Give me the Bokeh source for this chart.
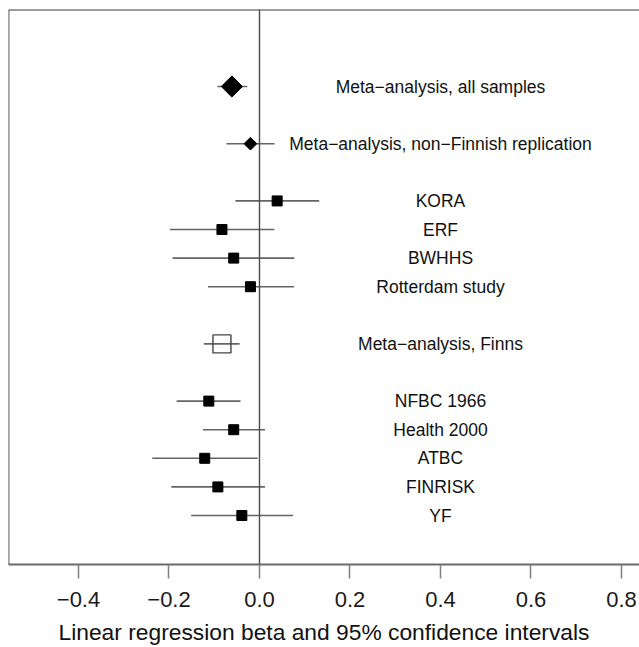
from bokeh.plotting import figure
from bokeh.models import Span, FixedTicker, ColumnDataSource, Range1d
from bokeh.core.properties import value
from bokeh.embed import file_html
from bokeh.resources import INLINE
import numpy as np

# ---- data ----
labels = ["Meta\u2212analysis, all samples",
          "Meta\u2212analysis, non\u2212Finnish replication",
          "KORA", "ERF", "BWHHS", "Rotterdam study",
          "Meta\u2212analysis, Finns",
          "NFBC 1966", "Health 2000", "ATBC", "FINRISK", "YF"]
rows = [16, 14, 12, 11, 10, 9, 7, 5, 4, 3, 2, 1]
beta = [-0.061, -0.020, 0.039, -0.083, -0.057, -0.020, -0.083,
        -0.112, -0.057, -0.121, -0.092, -0.039]
ci_low = [-0.093, -0.073, -0.053, -0.198, -0.192, -0.114, -0.123,
          -0.183, -0.125, -0.237, -0.195, -0.151]
ci_high = [-0.027, 0.033, 0.132, 0.033, 0.077, 0.076, -0.044,
           -0.042, 0.012, -0.004, 0.012, 0.074]
tick_values = [-0.4, -0.2, 0.0, 0.2, 0.4, 0.6, 0.8]
tick_labels = ["\u22120.4", "\u22120.2", "0.0", "0.2", "0.4", "0.6", "0.8"]
x_title = "Linear regression beta and 95% confidence intervals"

idx_all = [0]
idx_nonfin = [1]
idx_finns = [6]
idx_studies = [2, 3, 4, 5, 7, 8, 9, 10, 11]

FONT = "Liberation Sans"
X0, X1 = -0.5547, 0.8398
Y0, Y1 = -0.713, 18.693

p = figure(width=639, height=647, output_backend="svg", toolbar_location=None,
           x_range=Range1d(X0, X1), y_range=Range1d(Y0, Y1),
           y_axis_location=None, min_border_left=8, min_border_top=9,
           min_border_right=0, min_border_bottom=83)
p.outline_line_color = None
p.grid.visible = False
p.background_fill_color = "white"
p.border_fill_color = "white"

# frame borders (left, top); bottom is the axis line
p.add_layout(Span(location=X0, dimension="height", line_color="#4a4a4a", line_width=1.8))
p.add_layout(Span(location=Y1, dimension="width", line_color="#3a3a3a", line_width=2))
# zero line
p.add_layout(Span(location=0, dimension="height", line_color="#4a4a4a", line_width=1.4))

src = ColumnDataSource(dict(y=rows, b=beta, lo=ci_low, hi=ci_high, lab=labels))

p.segment(x0="lo", y0="y", x1="hi", y1="y", source=src, line_color="#646464", line_width=1.6)

def sub(ids):
    return dict(x=[beta[i] for i in ids], y=[rows[i] for i in ids])

p.scatter(x="x", y="y", source=ColumnDataSource(sub(idx_all)), marker="square",
          angle=np.pi / 4, size=15, fill_color="black", line_color="black")
p.scatter(x="x", y="y", source=ColumnDataSource(sub(idx_nonfin)), marker="square",
          angle=np.pi / 4, size=9, fill_color="black", line_color="black")
p.scatter(x="x", y="y", source=ColumnDataSource(sub(idx_studies)), marker="square",
          size=10, fill_color="black", line_color="black")
p.scatter(x="x", y="y", source=ColumnDataSource(sub(idx_finns)), marker="square",
          size=18, fill_color=None, line_color="#444444", line_width=1.4)

p.text(x=0.4, y="y", text="lab", source=src, text_align="center", text_baseline="middle",
       text_font=value(FONT), text_font_size="17.5px", text_color="#111111")

# x axis
ax = p.xaxis[0]
ax.ticker = FixedTicker(ticks=tick_values)
ax.major_label_overrides = {v: s for v, s in zip(tick_values, tick_labels)}
ax.axis_line_color = "#6a6a6a"
ax.axis_line_width = 1.8
ax.major_tick_out = 14
ax.major_tick_in = 0
ax.major_tick_line_color = "#808080"
ax.major_tick_line_width = 1.5
ax.minor_tick_line_color = None
ax.major_label_standoff = 13
ax.major_label_text_font = FONT
ax.major_label_text_font_size = "22px"
ax.major_label_text_color = "#1a1a1a"
ax.axis_label = x_title
ax.axis_label_standoff = 9
ax.axis_label_text_font = FONT
ax.axis_label_text_font_style = "normal"
ax.axis_label_text_font_size = "22.8px"
ax.axis_label_text_color = "#111111"

open("out.html", "w").write(file_html(p, INLINE))
